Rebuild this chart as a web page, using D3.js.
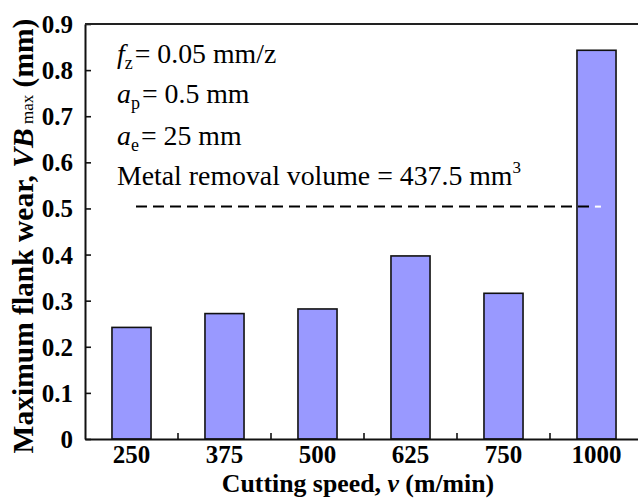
<!DOCTYPE html>
<html>
<head>
<meta charset="utf-8">
<script src="https://cdn.jsdelivr.net/npm/d3@7"></script>
<style>
  html, body { margin: 0; padding: 0; background: #fff; }
  svg { display: block; font-family: "Liberation Serif", "Times New Roman", serif; }
</style>
</head>
<body>
<svg id="chart" width="638" height="499"></svg>
<script>
const categories = ["250", "375", "500", "625", "750", "1000"];
const wearValues = [0.242, 0.272, 0.282, 0.397, 0.316, 0.843];
const yTicks = [0, 0.1, 0.2, 0.3, 0.4, 0.5, 0.6, 0.7, 0.8, 0.9];
const yTickLabels = ["0", "0.1", "0.2", "0.3", "0.4", "0.5", "0.6", "0.7", "0.8", "0.9"];
const referenceLevel = 0.504;

const svg = d3.select("#chart");
const mLeft = 85, mRight = 643, mTop = 24, mBottom = 439;
const serif = "'Liberation Serif', 'Times New Roman', serif";

const x = d3.scaleBand().domain(categories).range([mLeft, mRight])
  .paddingInner(0.58).paddingOuter(0.29);
const y = d3.scaleLinear().domain([0, 0.9]).range([mBottom, mTop]);

// bars
svg.append("g").selectAll("rect").data(categories).join("rect")
  .attr("x", d => x(d))
  .attr("y", (d, i) => y(wearValues[i]))
  .attr("width", x.bandwidth())
  .attr("height", (d, i) => y(0) - y(wearValues[i]))
  .attr("fill", "#9999ff")
  .attr("stroke", "#111")
  .attr("stroke-width", 1.6);

// dashed reference line
const lastCat = categories[categories.length - 1];
const xEnd = x(lastCat) + x.bandwidth() * 0.46;
svg.append("line")
  .attr("x1", 136).attr("x2", xEnd)
  .attr("y1", y(referenceLevel)).attr("y2", y(referenceLevel))
  .attr("stroke", "#000").attr("stroke-width", 2)
  .attr("stroke-dasharray", "11,6");
svg.append("line")
  .attr("x1", xEnd).attr("x2", xEnd + 6)
  .attr("y1", y(referenceLevel)).attr("y2", y(referenceLevel))
  .attr("stroke", "#fff").attr("stroke-width", 2);

// y axis
const yAxis = d3.axisLeft(y).tickValues(yTicks)
  .tickFormat((d, i) => yTickLabels[i]).tickSizeInner(-6).tickSizeOuter(0).tickPadding(12);
const gy = svg.append("g").attr("transform", `translate(${mLeft},0)`).call(yAxis);
gy.attr("font-family", serif);
gy.select(".domain").attr("stroke", "#111").attr("stroke-width", 2);
gy.selectAll(".tick line").attr("stroke", "#111").attr("stroke-width", 1.6);
gy.selectAll(".tick text").attr("font-family", serif).attr("font-weight", "bold")
  .attr("font-size", 25).attr("fill", "#000").attr("dy", "0.34em");

// x axis
const xAxis = d3.axisBottom(x).tickSize(0).tickPadding(6);
const gx = svg.append("g").attr("transform", `translate(0,${mBottom})`).call(xAxis);
gx.attr("font-family", serif);
gx.select(".domain").attr("stroke", "#111").attr("stroke-width", 2);
gx.selectAll(".tick text").attr("font-family", serif).attr("font-weight", "bold")
  .attr("font-size", 25).attr("fill", "#000").attr("dy", "0.72em");
// minor ticks between bars
const boundaries = categories.slice(1).map(c => x(c) - x.step() * x.paddingInner() / 2);
svg.append("g").selectAll("line").data(boundaries).join("line")
  .attr("x1", d => d).attr("x2", d => d)
  .attr("y1", mBottom).attr("y2", mBottom - 6)
  .attr("stroke", "#111").attr("stroke-width", 1.6);

// top frame line
svg.append("line").attr("x1", mLeft).attr("x2", mRight).attr("y1", mTop).attr("y2", mTop)
  .attr("stroke", "#222").attr("stroke-width", 1.8);

// annotations
const ann = svg.append("g").attr("font-family", serif).attr("font-size", 27.8).attr("fill", "#000");
function subLine(yb, main, sub, rest) {
  const t = ann.append("text").attr("x", 117).attr("y", yb);
  t.append("tspan").attr("font-style", "italic").text(main);
  t.append("tspan").attr("font-size", 18).attr("dy", 6).text(sub);
  t.append("tspan").attr("dy", -6).attr("dx", 2).text(rest);
}
subLine(63, "f", "z", "= 0.05 mm/z");
subLine(103, "a", "p", "= 0.5 mm");
subLine(145, "a", "e", "= 25 mm");
const mt = ann.append("text").attr("x", 117).attr("y", 185);
mt.append("tspan").text("Metal removal volume = 437.5 mm");
mt.append("tspan").attr("font-size", 17).attr("dy", -12).text("3");

// axis titles
svg.append("text")
  .attr("x", 358).attr("y", 492)
  .attr("text-anchor", "middle").attr("font-family", serif)
  .attr("font-weight", "bold").attr("font-size", 25.8)
  .call(t => {
    t.append("tspan").text("Cutting speed, ");
    t.append("tspan").attr("font-style", "italic").text("v");
    t.append("tspan").text(" (m/min)");
  });

svg.append("text")
  .attr("transform", "translate(33,236) rotate(-90)")
  .attr("text-anchor", "middle").attr("font-family", serif)
  .attr("font-weight", "bold").attr("font-size", 29.5)
  .call(t => {
    t.append("tspan").text("Maximum flank wear, ");
    t.append("tspan").attr("font-style", "italic").text("VB");
    t.append("tspan").attr("font-weight", "normal").attr("font-size", 17).text(" max");
    t.append("tspan").text(" (mm)");
  });
</script>
</body>
</html>
